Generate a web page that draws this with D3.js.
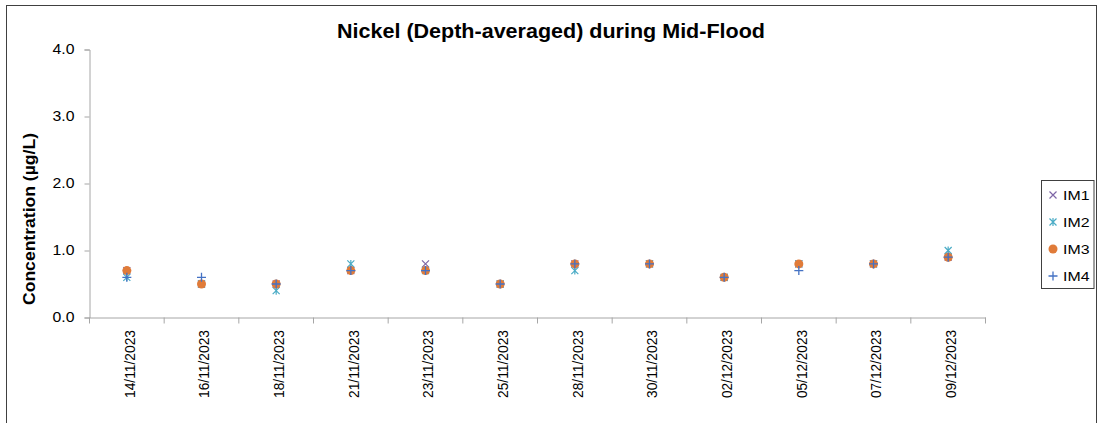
<!DOCTYPE html>
<html><head><meta charset="utf-8">
<script src="https://cdn.jsdelivr.net/npm/d3@7"></script>
<style>body{margin:0;background:#fff}svg{display:block}text{font-family:"Liberation Sans",Arial,sans-serif;fill:#000}</style>
</head><body>
<svg id="chart" width="1101" height="423"></svg>
<script>
const dates = ["14/11/2023","16/11/2023","18/11/2023","21/11/2023","23/11/2023","25/11/2023","28/11/2023","30/11/2023","02/12/2023","05/12/2023","07/12/2023","09/12/2023"];
const IM1 = [0.7,0.5,0.5,0.7,0.8,0.5,0.8,0.8,0.6,0.8,0.8,0.9];
const IM2 = [0.6,0.5,0.4,0.8,0.7,0.5,0.7,0.8,0.6,0.8,0.8,1.0];
const IM3 = [0.7,0.5,0.5,0.7,0.7,0.5,0.8,0.8,0.6,0.8,0.8,0.9];
const IM4 = [0.6,0.6,0.5,0.7,0.7,0.5,0.8,0.8,0.6,0.7,0.8,0.9];
const yTicks = [0,1,2,3,4];
const seriesNames = ["IM1","IM2","IM3","IM4"];
const seriesValues = [IM1,IM2,IM3,IM4];
const colors = {IM1:"#7E66A6",IM2:"#4BACC6",IM3:"#E07B39",IM4:"#4472C4"};
const title = "Nickel (Depth-averaged) during Mid-Flood";
const yTitle = "Concentration (µg/L)";

const svg = d3.select("#chart");
svg.append("rect").attr("x",6.5).attr("y",5.5).attr("width",1090).attr("height",440)
  .attr("fill","#fff").attr("stroke","#404040").attr("stroke-width",1);

const L=89.5,R=985.5,T=49.5,B=317.5;
const x = d3.scaleBand().domain(dates).range([L,R]).padding(0);
const y = d3.scaleLinear().domain([0,4]).range([B,T]);

// y axis
const ya = svg.append("g").attr("transform",`translate(${L},0)`)
  .call(d3.axisLeft(y).tickValues(yTicks).tickFormat(d3.format(".1f")).tickSize(5).tickPadding(10));
ya.select(".domain").attr("stroke","#A6A6A6");
ya.selectAll(".tick line").attr("stroke","#A6A6A6");
ya.selectAll("text").attr("font-size",14).attr("font-family","Liberation Sans, Arial, sans-serif").attr("fill","#222")
  .attr("textLength",22).attr("lengthAdjust","spacingAndGlyphs");

// x axis
const xa = svg.append("g").attr("transform",`translate(0,${B})`)
  .call(d3.axisBottom(x).tickSize(0).tickFormat(""));
xa.select(".domain").attr("stroke","#A6A6A6");
xa.selectAll(".tick").remove();
const bounds = dates.map(d=>x(d)).concat([x(dates[dates.length-1])+x.bandwidth()]);
xa.selectAll("line.b").data(bounds).join("line").attr("class","b")
  .attr("x1",d=>d).attr("x2",d=>d).attr("y1",0).attr("y2",6).attr("stroke","#A6A6A6");
svg.append("g").selectAll("text").data(dates).join("text")
  .attr("transform",d=>`translate(${x(d)+x.bandwidth()/2+3},330) rotate(-90)`)
  .attr("text-anchor","end").attr("dy","0.35em").attr("font-size",14).attr("fill","#222")
  .attr("textLength",68).attr("lengthAdjust","spacingAndGlyphs")
  .text(d=>d);

// titles
svg.append("text").attr("x",551).attr("y",38).attr("text-anchor","middle")
  .attr("font-size",19.5).attr("font-weight","bold")
  .attr("textLength",428).attr("lengthAdjust","spacingAndGlyphs").text(title);
svg.append("text").attr("transform","translate(35,219) rotate(-90)").attr("text-anchor","middle")
  .attr("font-size",16).attr("font-weight","bold")
  .attr("textLength",172).attr("lengthAdjust","spacingAndGlyphs").text(yTitle);

function marker(g,name,cx,cy){
  const c=colors[name];
  if(name==="IM1"){
    const s=3.5;
    g.append("path").attr("d",`M${cx-s},${cy-s}L${cx+s},${cy+s}M${cx-s},${cy+s}L${cx+s},${cy-s}`).attr("stroke",c).attr("stroke-width",1.2).attr("fill","none");
  } else if(name==="IM2"){
    const s=3.5;
    g.append("path").attr("d",`M${cx-s},${cy-s}L${cx+s},${cy+s}M${cx-s},${cy+s}L${cx+s},${cy-s}M${cx},${cy-s-0.5}L${cx},${cy+s+0.5}`).attr("stroke",c).attr("stroke-width",1.2).attr("fill","none");
  } else if(name==="IM3"){
    g.append("circle").attr("cx",cx).attr("cy",cy).attr("r",4.5).attr("fill",c);
  } else {
    const s=4.5;
    g.append("path").attr("d",`M${cx-s},${cy}L${cx+s},${cy}M${cx},${cy-s}L${cx},${cy+s}`).attr("stroke",c).attr("stroke-width",1.3).attr("fill","none");
  }
}

const pts = svg.append("g");
seriesNames.forEach((n,i)=>{
  const g = pts.append("g");
  seriesValues[i].forEach((v,j)=>marker(g,n,x(dates[j])+x.bandwidth()/2,y(v)));
});

// legend
const lg = svg.append("g");
lg.append("rect").attr("x",1041.5).attr("y",180.5).attr("width",52.5).attr("height",108)
  .attr("fill","#fff").attr("stroke","#404040");
seriesNames.forEach((n,i)=>{
  const cy = 195 + i*27;
  marker(lg,n,1053,cy);
  lg.append("text").attr("x",1063).attr("y",cy).attr("dy","0.35em").attr("font-size",13.5)
    .attr("textLength",26.5).attr("lengthAdjust","spacingAndGlyphs").text(n);
});
</script>
</body></html>
